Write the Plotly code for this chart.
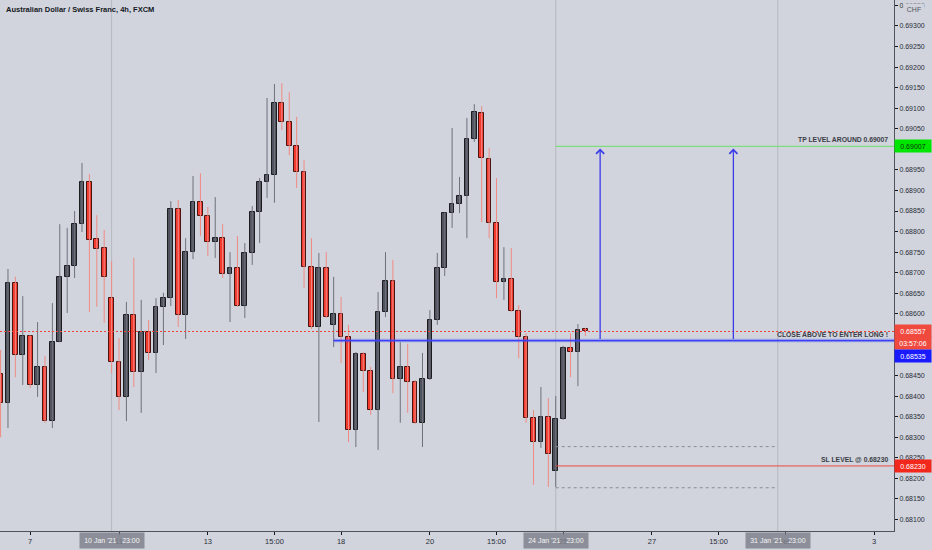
import plotly.graph_objects as go

# AUDCHF 4h candles (index = candle number, weekends skipped)
opens = [0.68454, 0.68383, 0.68675, 0.68500, 0.68546, 0.68427, 0.68471, 0.68339, 0.68531, 0.68690,
         0.68716, 0.68818, 0.68920, 0.68782, 0.68760, 0.68638, 0.68483, 0.68398, 0.68597, 0.68458,
         0.68556, 0.68505, 0.68617, 0.68638, 0.68855, 0.68597, 0.68750, 0.68872, 0.68838, 0.68775,
         0.68784, 0.68697, 0.68711, 0.68619, 0.68748, 0.68848, 0.68920, 0.68938, 0.69113, 0.69066,
         0.69008, 0.68945, 0.68714, 0.68568, 0.68711, 0.68573, 0.68600, 0.68544, 0.68317, 0.68502,
         0.68461, 0.68366, 0.68604, 0.68680, 0.68441, 0.68471, 0.68434, 0.68335, 0.68441, 0.68585,
         0.68711, 0.68845, 0.68867, 0.68886, 0.69025, 0.69088, 0.68977, 0.68821, 0.68677, 0.68685,
         0.68607, 0.68544, 0.68347, 0.68288, 0.68349, 0.68218, 0.68344, 0.68517, 0.68507, 0.68562]
highs = [0.68512, 0.68709, 0.68690, 0.68643, 0.68548, 0.68580, 0.68497, 0.68626, 0.68818, 0.68809,
         0.68850, 0.68967, 0.68940, 0.68840, 0.68804, 0.68728, 0.68541, 0.68629, 0.68736, 0.68634,
         0.68585, 0.68638, 0.68651, 0.68874, 0.68877, 0.68784, 0.68935, 0.68942, 0.68860, 0.68884,
         0.68818, 0.68750, 0.68789, 0.68772, 0.68862, 0.68930, 0.69125, 0.69159, 0.69161, 0.69139,
         0.69079, 0.68974, 0.68784, 0.68748, 0.68750, 0.68690, 0.68641, 0.68573, 0.68507, 0.68507,
         0.68471, 0.68653, 0.68750, 0.68731, 0.68531, 0.68527, 0.68439, 0.68505, 0.68609, 0.68748,
         0.68848, 0.69052, 0.68933, 0.69076, 0.69110, 0.69105, 0.69003, 0.68930, 0.68762, 0.68760,
         0.68621, 0.68553, 0.68366, 0.68422, 0.68395, 0.68400, 0.68522, 0.68553, 0.68575, 0.68566]
lows = [0.68300, 0.68322, 0.68446, 0.68427, 0.68420, 0.68398, 0.68335, 0.68322, 0.68531, 0.68602,
        0.68687, 0.68799, 0.68604, 0.68617, 0.68578, 0.68456, 0.68366, 0.68339, 0.68422, 0.68359,
        0.68488, 0.68456, 0.68524, 0.68619, 0.68568, 0.68539, 0.68733, 0.68789, 0.68741, 0.68736,
        0.68687, 0.68580, 0.68617, 0.68590, 0.68719, 0.68772, 0.68882, 0.68870, 0.69047, 0.68986,
        0.68906, 0.68663, 0.68563, 0.68337, 0.68590, 0.68519, 0.68480, 0.68288, 0.68276, 0.68410,
        0.68354, 0.68269, 0.68592, 0.68407, 0.68335, 0.68359, 0.68332, 0.68276, 0.68439, 0.68573,
        0.68692, 0.68809, 0.68845, 0.68784, 0.69018, 0.68823, 0.68784, 0.68638, 0.68634, 0.68604,
        0.68492, 0.68335, 0.68184, 0.68274, 0.68179, 0.68179, 0.68342, 0.68446, 0.68424, 0.68546]
closes = [0.68383, 0.68675, 0.68500, 0.68546, 0.68427, 0.68471, 0.68339, 0.68531, 0.68690, 0.68716,
          0.68818, 0.68920, 0.68780, 0.68758, 0.68690, 0.68483, 0.68398, 0.68597, 0.68458, 0.68556,
          0.68505, 0.68617, 0.68638, 0.68855, 0.68597, 0.68750, 0.68872, 0.68838, 0.68775, 0.68784,
          0.68697, 0.68711, 0.68619, 0.68748, 0.68848, 0.68920, 0.68938, 0.69113, 0.69066, 0.69008,
          0.68945, 0.68714, 0.68568, 0.68711, 0.68592, 0.68600, 0.68544, 0.68317, 0.68502, 0.68461,
          0.68366, 0.68604, 0.68680, 0.68441, 0.68471, 0.68434, 0.68335, 0.68441, 0.68585, 0.68711,
          0.68845, 0.68867, 0.68886, 0.69025, 0.69091, 0.68979, 0.68821, 0.68677, 0.68685, 0.68607,
          0.68544, 0.68347, 0.68288, 0.68349, 0.68259, 0.68344, 0.68517, 0.68507, 0.68561, 0.68557]

# x axis labels (candle index -> text)
tick_idx = [4, 16, 28, 37, 46, 58, 67, 76, 88, 97, 106, 118]
tick_txt = ['7', '11', '13', '15:00', '18', '20', '15:00', '25', '27', '15:00', 'Feb', '3']

# week separators (Sunday 23:00 candles)
sep_idx = [15, 75, 105]
sep_txt = ["10 Jan '21   23:00", "24 Jan '21   23:00", "31 Jan '21   23:00"]

# drawn levels
tp_level = 0.69007
entry_level = 0.68535
sl_level = 0.68230
last_price = 0.68557
box_top, box_bot = 0.68277, 0.68177
countdown = '03:57:06'
arrow_idx = [81, 99]
entry_start, tp_start, box_end = 45, 75, 105

x_range = [-0.077, 120.7]
y_range = [0.680718, 0.693632]

BG = '#d1d4dc'
UP = '#50535e'
DN = '#f23a2f'
FONT = 'Liberation Sans'

fig = go.Figure()

# wicks + bodies, split by direction
up_x, up_y, dn_x, dn_y = [], [], [], []
up_i, up_b, up_h, dn_i, dn_b, dn_h = [], [], [], [], [], []
for i, (o, h, l, c) in enumerate(zip(opens, highs, lows, closes)):
    if c >= o:
        up_x += [i, i, None]; up_y += [l, h, None]
        up_i.append(i); up_b.append(o); up_h.append(max(c - o, 0.000012))
    else:
        dn_x += [i, i, None]; dn_y += [l, h, None]
        dn_i.append(i); dn_b.append(c); dn_h.append(max(o - c, 0.000012))

fig.add_trace(go.Scatter(x=up_x, y=up_y, mode='lines', line=dict(color='#6e717a', width=1),
                         hoverinfo='skip', showlegend=False))
fig.add_trace(go.Scatter(x=dn_x, y=dn_y, mode='lines', line=dict(color='#f08a84', width=1),
                         hoverinfo='skip', showlegend=False))
fig.add_trace(go.Bar(x=up_i, y=up_h, base=up_b, width=0.64, showlegend=False,
                     marker=dict(color=UP, line=dict(color='#1b1c20', width=1))))
fig.add_trace(go.Bar(x=dn_i, y=dn_h, base=dn_b, width=0.64, showlegend=False,
                     marker=dict(color=DN, line=dict(color='#4a1410', width=1))))

shapes = []
for s in sep_idx:
    shapes.append(dict(type='line', xref='x', yref='paper', x0=s, x1=s, y0=0, y1=1,
                       line=dict(color='rgba(160,163,172,0.55)', width=1), layer='below'))
# last price dotted
shapes.append(dict(type='line', xref='x', yref='y', x0=x_range[0], x1=x_range[1], y0=last_price, y1=last_price,
                   line=dict(color='#f2443a', width=1, dash='2px,2px')))
# entry line (blue)
shapes.append(dict(type='line', xref='x', yref='y', x0=entry_start, x1=x_range[1], y0=entry_level, y1=entry_level,
                   line=dict(color='rgba(70,80,255,0.4)', width=3.5)))
shapes.append(dict(type='line', xref='x', yref='y', x0=entry_start, x1=x_range[1], y0=entry_level, y1=entry_level,
                   line=dict(color='#3a40f2', width=1.3)))
# TP / SL
shapes.append(dict(type='line', xref='x', yref='y', x0=tp_start, x1=x_range[1], y0=tp_level, y1=tp_level,
                   line=dict(color='#7dde7d', width=1.2)))
shapes.append(dict(type='line', xref='x', yref='y', x0=tp_start, x1=x_range[1], y0=sl_level, y1=sl_level,
                   line=dict(color='#ef4a40', width=1)))
for lv in [box_top, box_bot]:
    shapes.append(dict(type='line', xref='x', yref='y', x0=tp_start, x1=box_end, y0=lv, y1=lv,
                       line=dict(color='#8a8d95', width=1, dash='dot')))

ann = []
ann.append(dict(text="Australian Dollar / Swiss Franc, 4h, FXCM",
                xref='paper', yref='paper', x=0, y=1, xanchor='left', yanchor='top',
                xshift=4, yshift=-3, showarrow=False,
                font=dict(family=FONT, size=7.5, color='#131722', weight='bold')))
# arrows
for a in arrow_idx:
    ann.append(dict(x=a, y=tp_level, ax=a, ay=entry_level, xref='x', yref='y', axref='x', ayref='y',
                    text='', showarrow=True, arrowhead=4, arrowsize=1.2, arrowwidth=1.3,
                    arrowcolor='#3b3bea', standoff=2))
# line texts
for txt, lv in [('TP LEVEL AROUND 0.69007', tp_level), ('CLOSE ABOVE TO ENTER LONG !', entry_level),
                ('SL LEVEL @ 0.68230', sl_level)]:
    ann.append(dict(text='<b>' + txt + '</b>', xref='paper', yref='y', x=1, y=lv, xanchor='right',
                    yanchor='bottom', xshift=-4, yshift=1, showarrow=False,
                    font=dict(family=FONT, size=6.8, color='#3a3d45')))
# axis price labels
for txt, lv, bg, fc, ys in [('0.69007', tp_level, '#00e600', '#103010', 0),
                            ('0.68557', last_price, '#f0493e', 'white', 0),
                            (countdown, last_price, '#f0493e', 'white', -12),
                            ('0.68535', entry_level, '#1a1aff', 'white', -15),
                            ('0.68230', sl_level, '#f2281c', 'white', 0)]:
    ann.append(dict(text=txt, xref='paper', yref='y', x=1, y=lv, xanchor='left', yanchor='middle',
                    yshift=ys, showarrow=False, bgcolor=bg, width=34, height=10, borderpad=1,
                    font=dict(family=FONT, size=7, color=fc)))
ann.append(dict(text='CHF', xref='paper', yref='paper', x=1, y=1, xanchor='left', yanchor='top',
                xshift=9, yshift=-3, showarrow=False, bgcolor=BG, width=18, height=9,
                font=dict(family=FONT, size=7, color='#50535e')))
# separator date boxes
for s, txt in zip(sep_idx, sep_txt):
    ann.append(dict(text=txt, xref='x', yref='paper', x=s, y=0, xanchor='center', yanchor='top',
                    yshift=-1, showarrow=False, bgcolor='rgba(128,131,141,0.85)', width=62, height=13,
                    font=dict(family=FONT, size=7, color='#f4f4f6')))

fig.update_layout(
    width=932, height=550, autosize=False,
    margin=dict(l=0, r=38, t=0, b=19),
    paper_bgcolor=BG, plot_bgcolor=BG,
    barmode='overlay', bargap=0,
    shapes=shapes, annotations=ann,
    showlegend=False,
    xaxis=dict(range=x_range, showgrid=False, zeroline=False, automargin=False,
               tickvals=tick_idx, ticktext=tick_txt, ticks='outside', ticklen=3,
               tickcolor='#131722', showline=True, linecolor='#50535e', linewidth=1,
               tickfont=dict(family=FONT, size=7.5, color='#2a2e39'), fixedrange=True),
    yaxis=dict(range=y_range, side='right', showgrid=False, zeroline=False, automargin=False,
               tick0=0.681, dtick=0.0005, tickformat='.5f', ticks='outside', ticklen=3,
               tickcolor='#131722', showline=True, linecolor='#50535e', linewidth=1,
               tickfont=dict(family=FONT, size=7, color='#2a2e39'), fixedrange=True),
)

# the page body has a default 8px margin; drop it so the figure fills the window
fig.write_html("out.html", config={'displayModeBar': False},
               post_script="document.body.style.margin='0';document.body.style.overflow='hidden';")
